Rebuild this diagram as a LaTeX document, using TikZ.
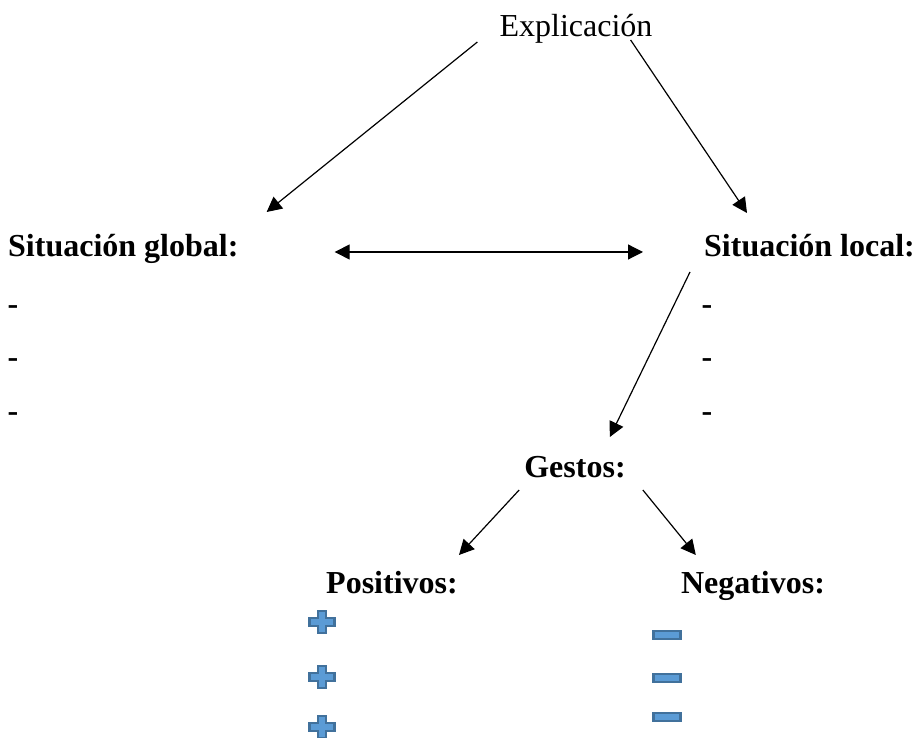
\documentclass[tikz,border=0pt]{standalone}
\usepackage{fontspec}
\setmainfont{Liberation Serif}
\usetikzlibrary{arrows.meta}
\definecolor{iconfill}{HTML}{5B9BD5}
\definecolor{iconline}{HTML}{41719C}
\tikzset{
	txt/.style={inner sep=0pt, anchor=base, font=\fontsize{32}{38}\selectfont},
	btxt/.style={txt, font=\fontsize{32}{38}\selectfont\bfseries},
	arr/.style={line width=1.2pt, -{Triangle[length=15pt,width=15pt]}},
	icon/.style={line width=2.4pt, draw=iconline, fill=iconfill, line join=miter}
}
\def\plussign(#1,#2){\draw[icon, shift={(#1,#2)}] (-12.5,-3.8) -- (-3.8,-3.8) -- (-3.8,-11) -- (3.8,-11) -- (3.8,-3.8) -- (12.5,-3.8) -- (12.5,3.8) -- (3.8,3.8) -- (3.8,11) -- (-3.8,11) -- (-3.8,3.8) -- (-12.5,3.8) -- cycle;}
\def\minussign(#1,#2){\draw[icon, shift={(#1,#2)}] (-13.5,-4.2) rectangle (13.5,4.2);}
\begin{document}
\begin{tikzpicture}[x=1pt, y=1pt]
			%%%%% START %%%%%
			\useasboundingbox (0, 0) rectangle (916, 737);
			
			\node[txt] (expl) at (576, 700) {Explicación};
			
			\node[btxt, anchor=base west] (global) at (8, 480) {Situación global:};
			\node[btxt, anchor=base west] (local) at (704, 480) {Situación local:};
			
			\node[btxt, anchor=center] (gl1) at (13, 427) {-};
			\node[btxt, anchor=center] (gl2) at (13, 374) {-};
			\node[btxt, anchor=center] (gl3) at (13, 320) {-};
			\node[btxt, anchor=center] (lo1) at (707, 427) {-};
			\node[btxt, anchor=center] (lo2) at (707, 374) {-};
			\node[btxt, anchor=center] (lo3) at (707, 320) {-};
			
			\node[btxt] (gest) at (575, 259) {Gestos:};
			\node[btxt] (pos) at (392, 144) {Positivos:};
			\node[btxt] (neg) at (753, 144) {Negativos:};
			
			\draw[arr] ([shift={(-22,-5)}]expl.base west) -- ([shift={(28,45)}]global.base east);
			\draw[arr] ([shift={(-22,-3)}]expl.base east) -- ([shift={(43,44)}]local.base west);
			\draw[arr, {Triangle[length=15pt,width=15pt]}-{Triangle[length=15pt,width=15pt]}] ([shift={(96,5)}]global.base east) -- ([shift={(-61,5)}]local.base west);
			\draw[arr] ([shift={(-14,-15)}]local.base west) -- ([shift={(-16,41)}]gest.base east);
			\draw[arr] ([shift={(-5,-12)}]gest.base west) -- ([shift={(1,38)}]pos.base east);
			\draw[arr] ([shift={(17,-12)}]gest.base east) -- ([shift={(15,38)}]neg.base west);
			
			\plussign(322, 115)
			\plussign(322, 60)
			\plussign(322, 10)
			
			\minussign(667, 102)
			\minussign(667, 59)
			\minussign(667, 20)
			
			%%%%% END %%%%%
		\end{tikzpicture}
\end{document}
